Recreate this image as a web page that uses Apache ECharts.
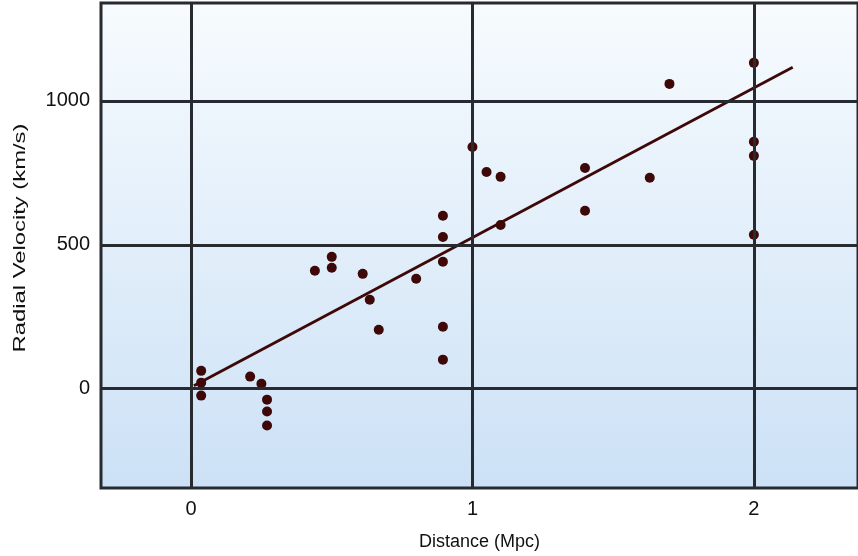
<!DOCTYPE html>
<html>
<head>
<meta charset="utf-8">
<script src="https://cdn.jsdelivr.net/npm/echarts@6/dist/echarts.min.js"></script>
<style>
  html, body { margin: 0; padding: 0; background: #ffffff; }
  #chart { width: 858px; height: 556px; }
</style>
</head>
<body>
<div id="chart"></div>
<script>
// Galaxy distances (Mpc) and radial velocities (km/s)
const distances = [
  0.036, 0.036, 0.036, 0.21, 0.25, 0.27, 0.27, 0.27,
  0.44, 0.50, 0.50, 0.61, 0.635, 0.667, 0.80,
  0.895, 0.895, 0.895, 0.895, 0.895,
  1.0, 1.05, 1.1, 1.1, 1.4, 1.4, 1.63, 1.7,
  2.0, 2.0, 2.0, 2.0
];
const velocities = [
  62, 21, -24, 42, 17, -38, -79, -128,
  410, 458, 420, 399, 309, 205, 382,
  601, 527, 441, 215, 101,
  840, 753, 736, 569, 767, 618, 733, 1059,
  1132, 858, 809, 535
];
// Best-fit line endpoints
const fitX = [0.01, 2.138];
const fitY = [10, 1117];
// Tick values shown on each axis
const xTicks = [0, 1, 2];
const yTicks = [0, 500, 1000];

const points = distances.map((d, i) => [d, velocities[i]]);
const fitLine = fitX.map((x, i) => [x, fitY[i]]);

const textColor = '#111111';
const gridColor = '#272a2e';
const markColor = '#3e0808';
const fontFamily = 'Liberation Sans, Arial, sans-serif';

const chart = echarts.init(document.getElementById('chart'), null, { renderer: 'canvas' });

chart.setOption({
  animation: false,
  grid: {
    left: 101, right: -3, top: 3, bottom: 68,
    show: true,
    borderColor: gridColor,
    borderWidth: 3,
    backgroundColor: new echarts.graphic.LinearGradient(0, 0, 0, 1, [
      { offset: 0, color: '#f7fbfe' },
      { offset: 1, color: '#cce1f6' }
    ])
  },
  // vertical axis title, stretched along its length
  graphic: [
    {
      type: 'text',
      x: 20, y: 238,
      rotation: Math.PI / 2,
      scaleX: 1.4,
      style: {
        text: 'Radial Velocity (km/s)',
        fill: textColor,
        font: '17px ' + fontFamily,
        align: 'center',
        verticalAlign: 'middle'
      }
    }
  ],
  xAxis: {
    type: 'value',
    min: -0.32, max: 2.37,
    name: 'Distance (Mpc)',
    nameLocation: 'middle',
    nameGap: 45,
    nameTextStyle: { color: textColor, fontSize: 18, fontFamily },
    axisLine: { show: false },
    axisTick: { show: false },
    splitLine: { show: false },
    axisLabel: {
      customValues: xTicks,
      color: textColor, fontSize: 20, fontFamily, margin: 11
    }
  },
  yAxis: {
    type: 'value',
    min: -345, max: 1340,
    axisLine: { show: false },
    axisTick: { show: false },
    splitLine: { show: false },
    axisLabel: {
      customValues: yTicks,
      formatter: v => String(v),
      color: textColor, fontSize: 20, fontFamily, margin: 11
    }
  },
  series: [
    {
      // grid lines at the labelled tick values
      type: 'line',
      data: [],
      silent: true,
      markLine: {
        silent: true,
        symbol: 'none',
        label: { show: false },
        lineStyle: { color: gridColor, width: 3, type: 'solid' },
        data: [
          ...xTicks.map(v => ({ xAxis: v })),
          ...yTicks.map(v => ({ yAxis: v }))
        ]
      }
    },
    {
      type: 'line',
      data: fitLine,
      symbol: 'none',
      lineStyle: { color: markColor, width: 2.8 },
      z: 3
    },
    {
      type: 'scatter',
      data: points,
      symbol: 'circle',
      symbolSize: 10,
      itemStyle: { color: markColor, opacity: 1 },
      z: 4
    }
  ]
});
</script>
</body>
</html>
